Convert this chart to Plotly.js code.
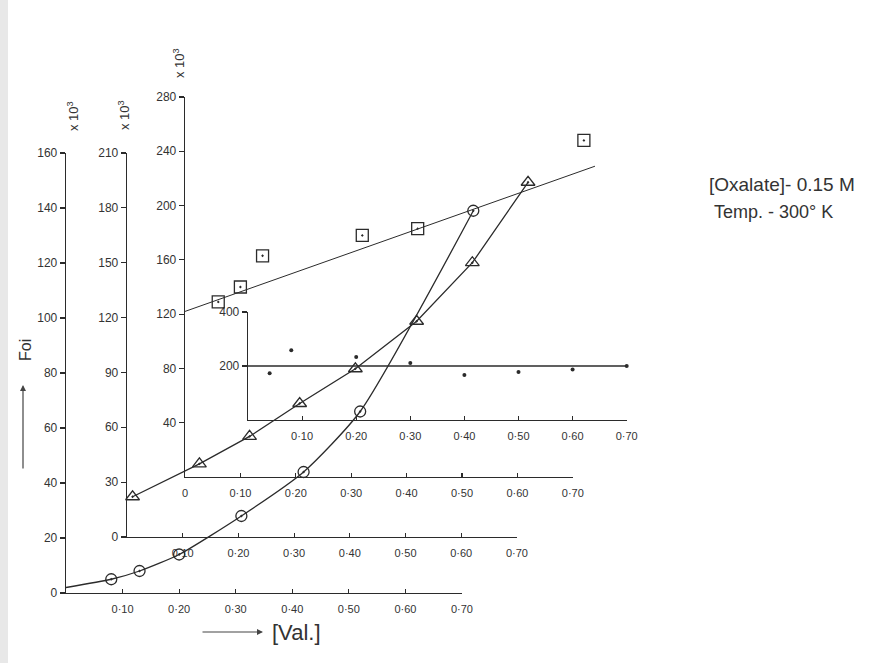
<!DOCTYPE html>
<html><head><meta charset="utf-8">
<script src="https://cdn.plot.ly/plotly-3.0.1.min.js"></script>
<style>html,body{margin:0;padding:0;background:#fff}#chart{width:890px;height:663px}</style>
</head><body><div id="chart"></div>
<script>
// ---------- data ----------
const xTickVals = [0.1, 0.2, 0.3, 0.4, 0.5, 0.6, 0.7];
const xTickText = ['0·10', '0·20', '0·30', '0·40', '0·50', '0·60', '0·70'];
const xTickVals3 = [0, 0.1, 0.2, 0.3, 0.4, 0.5, 0.6, 0.7];
const xTickText3 = ['0', '0·10', '0·20', '0·30', '0·40', '0·50', '0·60', '0·70'];
const yTicks1 = [0, 20, 40, 60, 80, 100, 120, 140, 160];
const yTicks2 = [0, 30, 60, 90, 120, 150, 180, 210];
const yTicks3 = [40, 80, 120, 160, 200, 240, 280];
const yTicks4 = [200, 400];

// circles (first axis set, 0-160 x10^3)
const curveStartX = [0];
const curveStartY = [2];
const circleX = [0.08, 0.13, 0.20, 0.31, 0.42, 0.52, 0.72];
const circleY = [5, 8, 14, 28, 44, 66, 139];
// triangles (second axis set, 0-210 x10^3)
const triX = [0.01, 0.13, 0.22, 0.31, 0.41, 0.52, 0.62, 0.72];
const triY = [22, 40, 55, 73, 92, 118, 150, 194];
// squares (third axis set, 0-280 x10^3)
const sqX = [0.06, 0.10, 0.14, 0.32, 0.42, 0.72];
const sqY = [129, 140, 163, 178, 183, 248];
const sqFitX = [0, 0.74];
const sqFitY = [122, 229];
// dots (inset axis set, 0-400)
const dotX = [0.04, 0.08, 0.20, 0.30, 0.40, 0.50, 0.60, 0.70];
const dotY = [173, 258, 233, 211, 167, 178, 187, 200];
const dotFitX = [0, 0.70];
const dotFitY = [200, 200];

// ---------- geometry ----------
const W = 890, H = 663;
const fx = p => p / W, fy = p => 1 - p / H;
const INK = '#2b2b2b';
const systems = [
  {ox: 66,  oy: 593, sx: 565.7, top: 153, ymax: 160, yt: yTicks1, xv: xTickVals,  xt: xTickText},
  {ox: 127, oy: 537, sx: 557,   top: 153, ymax: 210, yt: yTicks2, xv: xTickVals,  xt: xTickText},
  {ox: 185, oy: 477, sx: 554,   top: 97,  ymax: 280, yt: yTicks3, xv: xTickVals3, xt: xTickText3},
  {ox: 248, oy: 420, sx: 541,   top: 312, ymax: 400, yt: yTicks4, xv: xTickVals,  xt: xTickText}
];

const layout = {
  width: W, height: H,
  margin: {l: 0, r: 0, t: 0, b: 0},
  paper_bgcolor: '#ffffff', plot_bgcolor: 'rgba(0,0,0,0)',
  showlegend: false,
  font: {family: 'Liberation Sans, DejaVu Sans, sans-serif', color: INK},
  annotations: [], shapes: []
};
const traces = [];
systems.forEach((s, i) => {
  const n = i + 1, k = n === 1 ? '' : String(n), d = String(n + 4);
  layout['xaxis' + k] = {
    domain: [fx(s.ox), fx(s.ox + 0.7 * s.sx)], range: [0, 0.7], anchor: 'y' + k,
    showline: true, linecolor: INK, linewidth: 1.3, ticks: 'inside', ticklen: 4,
    tickcolor: INK, tickwidth: 1.2, tickvals: s.xv, ticktext: s.xt,
    showgrid: false, zeroline: false, tickfont: {size: 11, color: '#333'},
    ticklabelstandoff: 5, fixedrange: true
  };
  layout['yaxis' + k] = {
    domain: [fy(s.oy), fy(s.top)], range: [0, s.ymax], anchor: 'x' + k,
    showline: true, linecolor: INK, linewidth: 1.3, ticks: 'outside', ticklen: 5,
    tickcolor: INK, tickwidth: 1.2, tickvals: s.yt,
    showgrid: false, zeroline: false, tickfont: {size: 12, color: '#333'},
    fixedrange: true
  };
  layout['xaxis' + d] = {
    domain: [fx(s.ox), fx(s.ox + 0.8 * s.sx)], range: [0, 0.8], anchor: 'y' + k,
    visible: false, fixedrange: true
  };
  traces.push({x: [], y: [], xaxis: 'x' + k, yaxis: 'y' + k, mode: 'markers', hoverinfo: 'skip'});
});

const lineStyle = {color: INK, width: 1.3};
// circles
traces.push({x: curveStartX.concat(circleX), y: curveStartY.concat(circleY), xaxis: 'x5', yaxis: 'y',
  mode: 'lines', line: Object.assign({shape: 'spline', smoothing: 0.6}, lineStyle)});
traces.push({x: circleX, y: circleY, xaxis: 'x5', yaxis: 'y', mode: 'markers', cliponaxis: false,
  marker: {symbol: 'circle-open-dot', size: 11, color: INK, line: {width: 1.3, color: INK}}});
// triangles
traces.push({x: triX, y: triY, xaxis: 'x6', yaxis: 'y2', mode: 'lines', line: lineStyle});
traces.push({x: triX, y: triY, xaxis: 'x6', yaxis: 'y2', mode: 'markers', cliponaxis: false,
  marker: {symbol: 'triangle-up-open-dot', size: 12, color: INK, line: {width: 1.3, color: INK}}});
// squares
traces.push({x: sqFitX, y: sqFitY, xaxis: 'x7', yaxis: 'y3', mode: 'lines', line: {color: INK, width: 1}});
traces.push({x: sqX, y: sqY, xaxis: 'x7', yaxis: 'y3', mode: 'markers', cliponaxis: false,
  marker: {symbol: 'square-open-dot', size: 12, color: INK, line: {width: 1.3, color: INK}}});
// inset dots
traces.push({x: dotFitX, y: dotFitY, xaxis: 'x8', yaxis: 'y4', mode: 'lines', line: lineStyle});
traces.push({x: dotX, y: dotY, xaxis: 'x8', yaxis: 'y4', mode: 'markers', cliponaxis: false,
  marker: {symbol: 'circle', size: 4, color: INK}});

// annotations
const ann = layout.annotations;
const txt = (x, y, text, size, extra) => ann.push(Object.assign({
  xref: 'paper', yref: 'paper', x: fx(x), y: fy(y), text: text, showarrow: false,
  xanchor: 'center', yanchor: 'middle', font: {size: size, color: '#333'}
}, extra || {}));
[[73, 116], [124, 115], [179, 63]].forEach(p => txt(p[0], p[1], 'x 10<sup>3</sup>', 13, {textangle: -90}));
txt(25, 350, 'Foi', 16, {textangle: -90});
txt(270, 632, '[Val.]', 22, {xanchor: 'left'});
txt(707, 184, '[Oxalate]- 0.15 M', 19, {xanchor: 'left'});
txt(712, 212, 'Temp. - 300° K', 18, {xanchor: 'left'});
ann.push({xref: 'paper', yref: 'paper', x: fx(23), y: fy(385), text: '', showarrow: true,
  ax: 0, ay: 85, arrowhead: 2, arrowsize: 1, arrowwidth: 1.2, arrowcolor: '#444'});
ann.push({xref: 'paper', yref: 'paper', x: fx(263), y: fy(632), text: '', showarrow: true,
  ax: -62, ay: 0, arrowhead: 2, arrowsize: 1, arrowwidth: 1.2, arrowcolor: '#444'});

// scan shadow on the left edge
layout.shapes.push({type: 'rect', xref: 'paper', yref: 'paper', x0: 0, x1: fx(8), y0: 0, y1: 1,
  fillcolor: '#e8e8e8', line: {width: 0}, layer: 'below'});

Plotly.newPlot('chart', traces, layout, {staticPlot: true, displayModeBar: false});
</script></body></html>
